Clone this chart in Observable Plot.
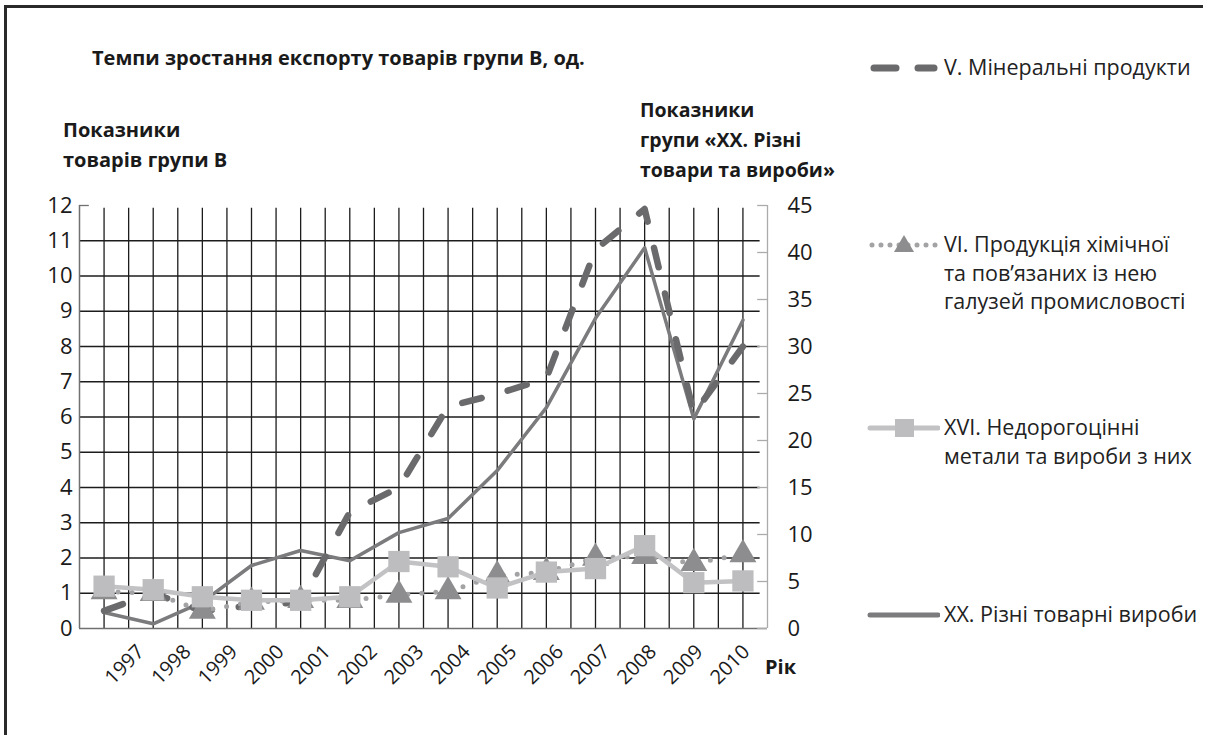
<!DOCTYPE html>
<html><head><meta charset="utf-8">
<script src="https://cdn.jsdelivr.net/npm/d3@7"></script>
<script src="https://cdn.jsdelivr.net/npm/@observablehq/plot@0.6"></script>
<style>
body{margin:0;background:#fff;font-family:"Open Sans","Noto Sans",sans-serif;}
#wrap{position:relative;width:1211px;height:735px;overflow:hidden;background:#fff;}
#frame{position:absolute;left:4px;top:5px;width:1196px;height:760px;border-left:3px solid #2a2a2a;border-top:3px solid #2a2a2a;}
#chart{position:absolute;left:0;top:0;}
.t{position:absolute;color:#1a1a1a;white-space:nowrap;}
.b{font-weight:700;font-size:20px;line-height:30px;}
.leg{position:absolute;left:866px;display:flex;align-items:flex-start;}
.leg svg{flex:none;}
.leg .txt{font-size:21.5px;line-height:28.5px;color:#222;margin-left:4px;}
</style></head><body>
<div id="wrap">
  <div id="frame"></div>
  <div id="chart"></div>
  <div class="t b" style="left:92px;top:43px;">Темпи зростання експорту товарів групи B, од.</div>
  <div class="t b" style="left:63px;top:115px;">Показники<br>товарів групи B</div>
  <div class="t b" style="left:640px;top:95px;font-size:19.5px;">Показники<br>групи «XX. Різні<br>товари та вироби»</div>
  <div class="leg" style="top:53px;">
    <svg width="74" height="29"><line x1="8" y1="15" x2="30" y2="15" stroke="#6a6a6c" stroke-width="7" stroke-linecap="round"/><line x1="52" y1="15" x2="68" y2="15" stroke="#6a6a6c" stroke-width="7" stroke-linecap="round"/></svg>
    <div class="txt">V. Мінеральні продукти</div>
  </div>
  <div class="leg" style="top:230px;">
    <svg width="74" height="29"><line x1="6" y1="15" x2="70" y2="15" stroke="#a3a3a5" stroke-width="5" stroke-linecap="round" stroke-dasharray="0 9"/><path d="M38,5 L48,22 L28,22 Z" fill="#8d8d8f"/></svg>
    <div class="txt">VI. Продукція хімічної<br>та пов’язаних із нею<br>галузей промисловості</div>
  </div>
  <div class="leg" style="top:413px;">
    <svg width="74" height="29"><line x1="4" y1="15" x2="72" y2="15" stroke="#c2c2c4" stroke-width="5" stroke-linecap="round"/><rect x="29" y="6" width="19" height="18" fill="#bdbdbf"/></svg>
    <div class="txt">XVI. Недорогоцінні<br>метали та вироби з них</div>
  </div>
  <div class="leg" style="top:600px;">
    <svg width="74" height="29"><line x1="4" y1="15" x2="72" y2="15" stroke="#7b7b7d" stroke-width="5" stroke-linecap="round"/></svg>
    <div class="txt">XX. Різні товарні вироби</div>
  </div>
  <div class="t" style="left:765px;top:653px;font-weight:700;font-size:20px;">Рік</div>
</div>
<script>
// ---- data ----
const years = [1997,1998,1999,2000,2001,2002,2003,2004,2005,2006,2007,2008,2009,2010];
// V. Мінеральні продукти (left axis)
const mineral = [0.5, 1.0, 0.5, 0.65, 0.75, 3.3, 4.0, 6.3, 6.65, 7.1, 10.75, 11.9, 6.1, 8.0];
// VI. Продукція хімічної ... (left axis)
const chemical = [1.05, 1.0, 0.5, 0.75, 0.8, 0.8, 0.95, 1.05, 1.5, 1.6, 2.0, 2.05, 1.85, 2.1];
// XVI. Недорогоцінні метали (left axis)
const metals = [1.2, 1.1, 0.9, 0.8, 0.8, 0.9, 1.9, 1.75, 1.15, 1.6, 1.7, 2.35, 1.3, 1.35];
// XX. Різні товарні вироби (right axis)
const misc = [1.7, 0.5, 2.8, 6.7, 8.3, 7.2, 10.2, 11.7, 16.8, 23.5, 33.0, 40.5, 22.3, 32.8];
const leftTicks = [0,1,2,3,4,5,6,7,8,9,10,11,12];
const rightTicks = [0,5,10,15,20,25,30,35,40,45];
const leftMax = 12, rightMax = 45;

// ---- derived ----
const k = leftMax / rightMax;
const rows = (vals) => years.map((y, i) => ({year: y, v: vals[i]}));
const mineralRows = rows(mineral), chemRows = rows(chemical), metalRows = rows(metals);
const miscRows = years.map((y, i) => ({year: y, v: misc[i] * k}));
const x0 = years[0] - 0.5, x1 = years[years.length - 1] + 0.5;
const halfYears = d3.range(years[0], years[years.length - 1] + 0.001, 0.5);
// tick label anchor: Excel spreads labels slightly tighter than data points
const labelX = (y) => y + 0.75 - (y - years[0]) * 0.0525;

const font = '"Open Sans","Noto Sans",sans-serif';
const chart = Plot.plot({
  width: 1211, height: 735,
  marginLeft: 79, marginRight: 444, marginTop: 205, marginBottom: 107,
  style: {fontFamily: font, background: "transparent", overflow: "visible"},
  x: {domain: [x0, x1], axis: null},
  y: {domain: [0, leftMax], axis: null},
  marks: [
    // grid
    Plot.ruleX(halfYears, {y1: 0, y2: leftMax - 0.08, stroke: "#1c1c1c", strokeWidth: 1.3}),
    Plot.ruleY(leftTicks.filter(d => d > 0 && d < leftMax), {x1: x0, x2: x1 - 0.15, stroke: "#1c1c1c", strokeWidth: 1.3}),
    // axes lines
    Plot.ruleX([x0], {y1: 0, y2: leftMax, stroke: "#707070", strokeWidth: 1.5}),
    Plot.ruleY([0], {x1: x0, x2: x1, stroke: "#707070", strokeWidth: 1.5}),
    Plot.ruleY([leftMax], {x1: x0, x2: x0 + 0.2, stroke: "#707070", strokeWidth: 1.3}),
    Plot.ruleX([x1], {y1: 0, y2: leftMax, stroke: "#ababab", strokeWidth: 1.3}),
    Plot.ruleY(rightTicks.map(d => d * k), {x1: x1 - 0.2, x2: x1, stroke: "#ababab", strokeWidth: 1.3}),
    // tick labels
    Plot.text(leftTicks, {x: x0, y: d => d, text: d => String(d), dx: -7, textAnchor: "end", fontSize: 22, fill: "#1a1a1a"}),
    Plot.text(rightTicks, {x: x1, y: d => d * k, text: d => String(d), dx: 20, textAnchor: "start", fontSize: 22, fill: "#1a1a1a"}),
    Plot.text(years, {x: d => labelX(d), y: 0, text: d => String(d), rotate: -45, textAnchor: "end", dy: 20, fontSize: 20, fill: "#1a1a1a"}),
    // series
    Plot.line(miscRows, {x: "year", y: "v", stroke: "#7b7b7d", strokeWidth: 3.5}),
    Plot.line(mineralRows, {x: "year", y: "v", stroke: "#6a6a6c", strokeWidth: 6.5, strokeLinecap: "round", strokeDasharray: "20 27"}),
    Plot.line(chemRows, {x: "year", y: "v", stroke: "#a3a3a5", strokeWidth: 5, strokeLinecap: "round", strokeDasharray: "0 14"}),
    Plot.dot(chemRows, {x: "year", y: "v", symbol: "triangle", r: 10, fill: "#8d8d8f", stroke: "none"}),
    Plot.line(metalRows, {x: "year", y: "v", stroke: "#c2c2c4", strokeWidth: 4.5}),
    Plot.dot(metalRows, {x: "year", y: "v", symbol: "square", r: 12, fill: "#bdbdbf", stroke: "none"})
  ]
});
document.getElementById("chart").appendChild(chart);
</script>
</body></html>
